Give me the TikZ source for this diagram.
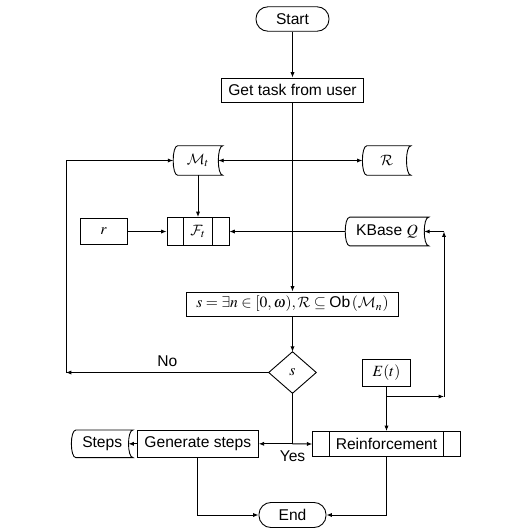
\documentclass[tikz,border=0pt]{standalone}
\usepackage{mathptmx}
\usepackage[no-math]{fontspec}
\setmainfont{Liberation Sans}
\DeclareMathAlphabet{\mycal}{OMS}{cmsy}{m}{n}
\usetikzlibrary{arrows.meta}
\begin{document}
\begin{tikzpicture}[x=0.6667pt,y=-0.6667pt,
  every node/.style={font=\fontsize{10.4}{12}\selectfont},
  box/.style={draw, line width=0.6pt, inner sep=0pt, align=center},
  term/.style={box, rounded corners=8pt},
  store/.style={inner sep=0pt},
  proc/.style={box, path picture={\draw[line width=0.6pt]
     ([xshift=11pt]path picture bounding box.north west) -- ([xshift=11pt]path picture bounding box.south west)
     ([xshift=-11pt]path picture bounding box.north east) -- ([xshift=-11pt]path picture bounding box.south east);}},
  arr/.style={line width=0.6pt, -{Latex[length=3.6pt,width=2.8pt]}},
  darr/.style={line width=0.6pt, {Latex[length=3.6pt,width=2.8pt]}-{Latex[length=3.6pt,width=2.8pt]}},
  ln/.style={line width=0.6pt},
  storeline/.style={line width=0.6pt}
]
\useasboundingbox (0,0) rectangle (512,531);
\newcommand{\storeshape}[1]{%
  \draw[storeline] ([xshift=3pt]#1.north west) .. controls ([xshift=-1pt]#1.north west) and ([xshift=-1pt]#1.south west) .. ([xshift=3pt]#1.south west)
    -- (#1.south east) .. controls ([xshift=-4pt]#1.south east) and ([xshift=-4pt]#1.north east) .. (#1.north east) -- cycle;}

% nodes
\node[term, minimum width=48.7pt, minimum height=16.3pt] (start) at (292.5,19) {Start};
\node[box, minimum width=94.7pt, minimum height=16pt] (get) at (292.5,90) {Get task from user};
\node[store, minimum width=32.7pt, minimum height=19.3pt] (M) at (198,160.5) {$\mycal{M}_t$};
\node[store, minimum width=32pt, minimum height=19.3pt] (R) at (386.7,160.5) {$\mycal{R}$};
\node[box, minimum width=31.3pt, minimum height=17.3pt] (r) at (103.7,231.5) {$r$};
\node[proc, minimum width=41.3pt, minimum height=18.7pt] (F) at (198,231.5) {$\mycal{F}_t$};
\node[store, minimum width=55.3pt, minimum height=18.7pt] (K) at (387,231.5) {KBase $Q$};
\node[box, minimum width=141.3pt, minimum height=16pt] (cond) at (292.5,304) {$s=\exists n\in[0,\omega),\mycal{R}\subseteq\mbox{Ob}\,(\mycal{M}_n)$};
\node[inner sep=0pt, minimum width=31.3pt, minimum height=27.3pt] (dia) at (292.5,372.5) {$s$};
\draw[ln] (dia.north) -- (dia.east) -- (dia.south) -- (dia.west) -- cycle;
\node[box, minimum width=32pt, minimum height=18pt] (E) at (386.5,372.5) {$E(t)$};
\node[box, minimum width=80.7pt, minimum height=18pt] (gen) at (197.8,443.8) {Generate steps};
\node[store, minimum width=40.7pt, minimum height=18pt] (steps) at (102.2,443.8) {Steps};
\node[proc, minimum width=98.4pt, minimum height=16.7pt] (rein) at (386.5,444) {Reinforcement};
\node[term, minimum width=44.7pt, minimum height=16.7pt] (end) at (292.5,515) {End};

\storeshape{M}
\storeshape{R}
\storeshape{K}
\storeshape{steps}

% coordinates
\coordinate (nocorner) at (66,372.5);
\coordinate (yes) at (292.5,443.8);
\coordinate (eb) at (386.5,396.5);
\coordinate (kc) at (444,396.5);
\coordinate (kt) at (444,231.5);

% connectors
\draw[arr] (start) -- (get);
\draw[arr] (get) -- (cond);
\draw[darr] ([xshift=-3pt]M.east) -- (R.west);
\draw[arr] (M) -- (F);
\draw[arr] (r) -- (F);
\draw[arr] (K.west) -- (F.east);
\draw[arr] (cond) -- (dia);
\draw[arr] (dia.west) -- node[above=0.5pt, pos=0.5] {No} (nocorner);
\draw[arr] (nocorner) |- (M.west);
\draw[ln] (dia.south) -- (yes);
\draw[arr] (yes) -- (gen.east);
\draw[arr] (yes) -- (rein.west);
\node[below=1pt] (yeslabel) at (yes) {Yes};
\draw[arr] (gen.west) -- ([xshift=-3pt]steps.east);
\draw[arr] (gen.south) |- (end.west);
\draw[arr] (rein.south) |- (end.east);
\draw[arr] (E) -- (rein);
\draw[arr] (eb) -- (kc);
\draw[arr] (kc) -- (kt);
\draw[arr] (kt) -- ([xshift=-3pt]K.east);
\end{tikzpicture}
\end{document}
